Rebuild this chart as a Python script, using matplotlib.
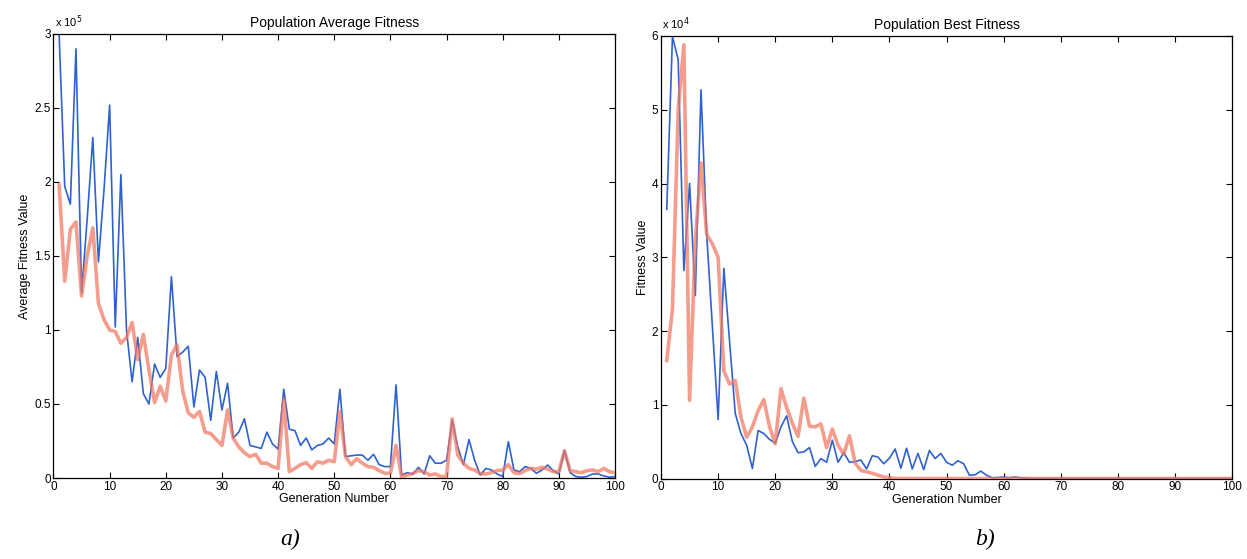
import numpy as np
import matplotlib
matplotlib.use('Agg')
import matplotlib.pyplot as plt

plt.rcParams['font.family'] = ['Liberation Sans', 'DejaVu Sans']

# generations 1..100
gens = np.arange(1, 101)

# average fitness, units of 1e5
avg_blue = [3.0, 1.97, 1.85, 2.9, 1.25, 1.75, 2.3, 1.46, 1.95, 2.52,
            1.02, 2.05, 1.0, 0.65, 0.95, 0.57, 0.50, 0.77, 0.68, 0.74,
            1.36, 0.82, 0.85, 0.89, 0.48, 0.73, 0.68, 0.39, 0.72, 0.46,
            0.64, 0.27, 0.31, 0.40, 0.22, 0.21, 0.20, 0.31, 0.23, 0.195,
            0.60, 0.33, 0.32, 0.22, 0.27, 0.19, 0.22, 0.23, 0.27, 0.23,
            0.60, 0.145, 0.15, 0.155, 0.155, 0.12, 0.16, 0.09, 0.077, 0.077,
            0.63, 0.02, 0.036, 0.027, 0.072, 0.027, 0.15, 0.10, 0.10, 0.12,
            0.39, 0.21, 0.09, 0.26, 0.12, 0.02, 0.065, 0.054, 0.027, 0.01,
            0.245, 0.054, 0.043, 0.077, 0.065, 0.032, 0.054, 0.088, 0.05, 0.027,
            0.185, 0.036, 0.01, 0.005, 0.01, 0.027, 0.027, 0.014, 0.005, 0.01]
avg_red = [1.98, 1.33, 1.68, 1.73, 1.23, 1.5, 1.69, 1.18, 1.07, 1.0,
           0.99, 0.91, 0.95, 1.05, 0.80, 0.97, 0.73, 0.51, 0.62, 0.52,
           0.83, 0.90, 0.59, 0.44, 0.41, 0.45, 0.31, 0.30, 0.26, 0.22,
           0.46, 0.27, 0.21, 0.17, 0.145, 0.16, 0.10, 0.10, 0.077, 0.065,
           0.53, 0.043, 0.065, 0.09, 0.104, 0.065, 0.11, 0.10, 0.12, 0.11,
           0.45, 0.145, 0.09, 0.13, 0.10, 0.077, 0.072, 0.05, 0.032, 0.032,
           0.22, 0.005, 0.02, 0.03, 0.05, 0.043, 0.02, 0.027, 0.01, 0.01,
           0.40, 0.155, 0.10, 0.065, 0.054, 0.03, 0.027, 0.036, 0.05, 0.054,
           0.09, 0.036, 0.03, 0.05, 0.065, 0.06, 0.072, 0.06, 0.043, 0.043,
           0.185, 0.05, 0.043, 0.036, 0.05, 0.054, 0.043, 0.065, 0.043, 0.036]

# best fitness, units of 1e4
best_blue = [3.65, 5.99, 5.68, 2.82, 4.0, 2.48, 5.27, 3.3, 2.05, 0.8,
             2.85, 1.86, 0.88, 0.61, 0.45, 0.135, 0.65, 0.61, 0.53, 0.48,
             0.70, 0.85, 0.50, 0.35, 0.36, 0.42, 0.165, 0.27, 0.22, 0.52,
             0.22, 0.35, 0.22, 0.23, 0.25, 0.13, 0.31, 0.29, 0.2, 0.275,
             0.40, 0.14, 0.41, 0.13, 0.34, 0.12, 0.38, 0.27, 0.34, 0.22,
             0.18, 0.24, 0.2, 0.045, 0.05, 0.10, 0.045, 0.01, 0.013, 0.02,
             0.01, 0.02, 0.01, 0.005] + [0.0] * 36
best_red = [1.6, 2.3, 5.0, 5.88, 1.06, 3.22, 4.28, 3.31, 3.18, 3.0,
            1.46, 1.28, 1.33, 0.83, 0.56, 0.70, 0.92, 1.07, 0.70, 0.47,
            1.22, 0.96, 0.75, 0.57, 1.09, 0.71, 0.70, 0.74, 0.42, 0.67,
            0.45, 0.33, 0.58, 0.21, 0.11, 0.09, 0.07, 0.045, 0.02, 0.013] + [0.0] * 60

blue = '#2f62cf'
red = '#f07761'

fig = plt.figure(figsize=(12.47, 5.59), dpi=100)
ax1 = fig.add_axes([0.0429, 0.1449, 0.4503, 0.7943])
ax2 = fig.add_axes([0.5301, 0.1440, 0.4579, 0.7916])

panels = [
    (ax1, avg_blue, avg_red, 3, 0.5, 'Population Average Fitness', 'Average Fitness Value', '5'),
    (ax2, best_blue, best_red, 6, 1, 'Population Best Fitness', 'Fitness Value', '4'),
]

for ax, b, r, ymax, ystep, title, ylabel, expo in panels:
    ax.plot(gens, b, color=blue, lw=1.2, zorder=2)
    ax.plot(gens, r, color=red, lw=2.6, alpha=0.72, zorder=3)
    ax.set_xlim(0, 100)
    ax.set_ylim(0, ymax)
    ax.set_xticks(np.arange(0, 101, 10))
    yt = np.arange(0, ymax + ystep / 2, ystep)
    ax.set_yticks(yt)
    ax.set_yticklabels(['%g' % v for v in yt])
    ax.tick_params(direction='in', top=True, right=True, length=4, width=0.8,
                   labelsize=8.5, pad=2)
    for s in ax.spines.values():
        s.set_linewidth(0.9)
    ax.set_title(title, fontsize=10, pad=5)
    ax.set_xlabel('Generation Number', fontsize=9, labelpad=0.5)
    ax.set_ylabel(ylabel, fontsize=9, labelpad=2)
    ax.text(0.002, 1.008, 'x 10$^{%s}$' % expo, transform=ax.transAxes,
            fontsize=8, ha='left', va='bottom')

fig.text(0.233, 0.025, 'a)', fontsize=17, style='italic', family='Liberation Serif', ha='center')
fig.text(0.79, 0.025, 'b)', fontsize=17, style='italic', family='Liberation Serif', ha='center')

fig.savefig('out.png', dpi=100)
